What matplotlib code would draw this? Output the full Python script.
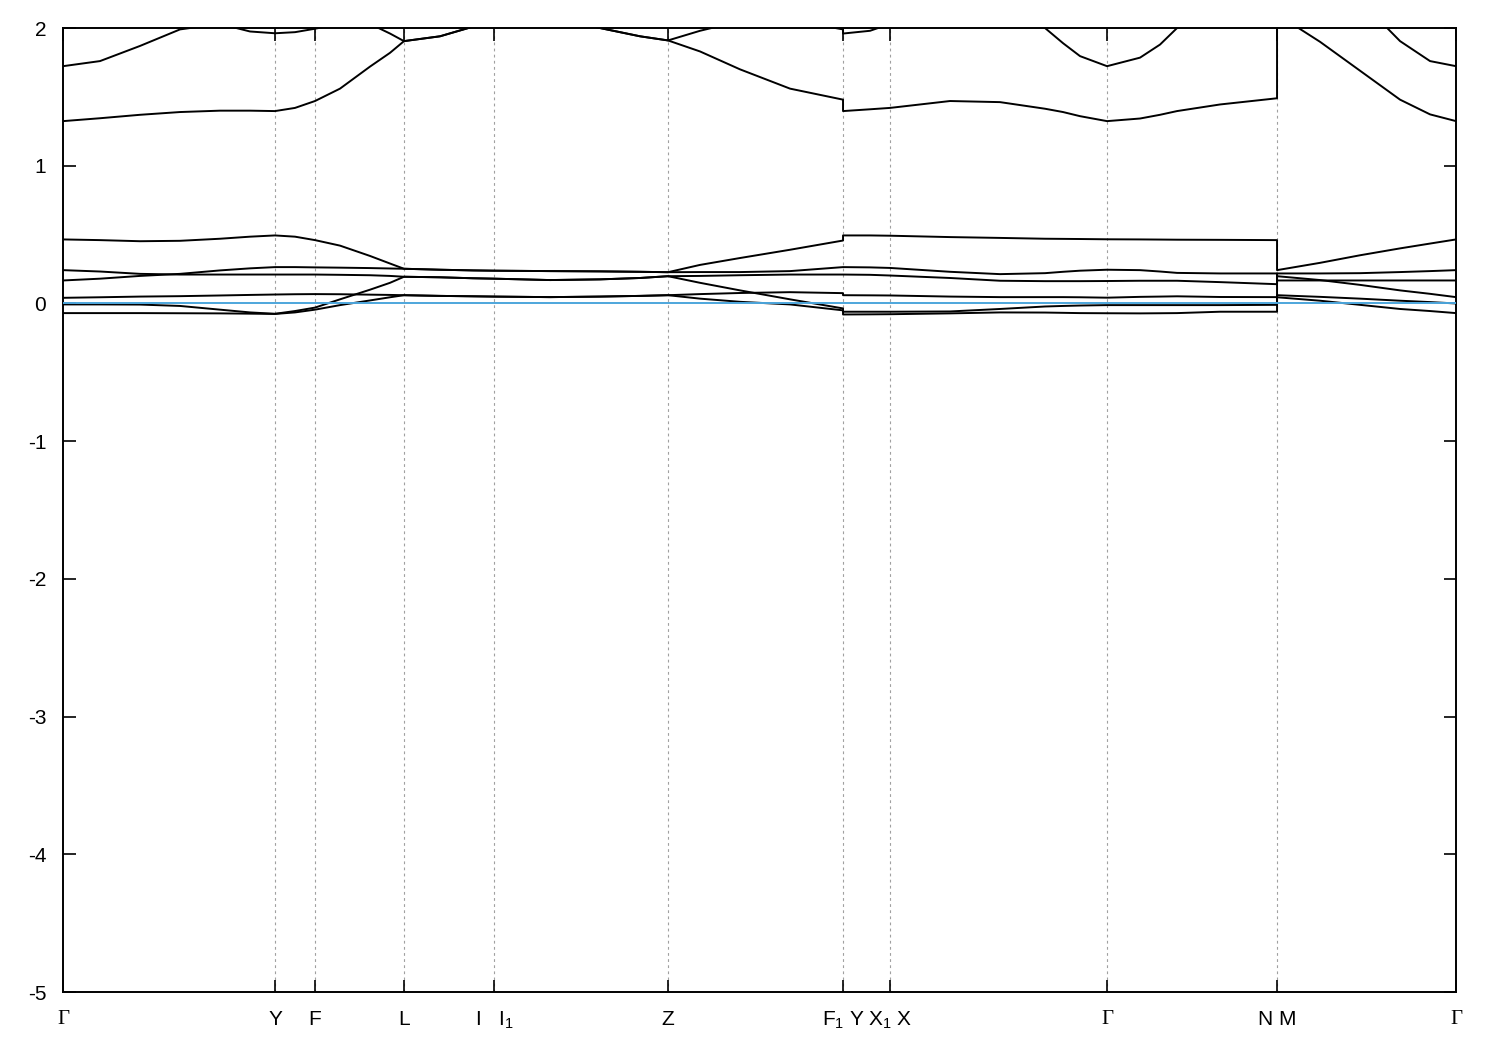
import matplotlib.pyplot as plt
import numpy as np

plt.rcParams['font.family'] = ['Liberation Sans', 'DejaVu Sans']
plt.rcParams['mathtext.fontset'] = 'custom'
plt.rcParams['mathtext.rm'] = 'Liberation Sans'
plt.rcParams['mathtext.it'] = 'Liberation Sans'
plt.rcParams['axes.unicode_minus'] = False

# k-path coordinate (the two repeated values are the path breaks F1|Y and N|M)
kpath = [0.00, 0.37, 0.77, 1.17, 1.57, 1.87, 2.12, 2.32, 2.52, 2.77,
         3.07, 3.27, 3.41, 3.77, 4.10, 4.31, 4.87, 5.37, 5.77, 6.05,
         6.37, 6.77, 7.27, 7.80, 7.80, 8.07, 8.27, 8.87, 9.37, 9.82,
         10.00, 10.17, 10.44, 10.77, 10.97, 11.14, 11.57, 12.14, 12.14, 12.57,
         12.97, 13.37, 13.67, 13.93]

band1 = [-0.070, -0.070, -0.070, -0.071, -0.072, -0.074, -0.076, -0.065, -0.045, -0.012,
         0.022, 0.045, 0.060, 0.055, 0.052, 0.050, 0.046, 0.050, 0.055, 0.060,
         0.035, 0.012, -0.007, -0.050, -0.080, -0.079, -0.078, -0.072, -0.065, -0.066,
         -0.068, -0.070, -0.071, -0.072, -0.071, -0.070, -0.060, -0.060, 0.045, 0.020,
         -0.010, -0.040, -0.055, -0.070]
band2 = [-0.007, -0.007, -0.008, -0.018, -0.045, -0.065, -0.075, -0.055, -0.030, 0.030,
         0.100, 0.150, 0.194, 0.190, 0.183, 0.180, 0.170, 0.175, 0.185, 0.198,
         0.150, 0.095, 0.030, -0.036, -0.060, -0.060, -0.060, -0.058, -0.040, -0.022,
         -0.018, -0.015, -0.012, -0.012, -0.012, -0.012, -0.012, -0.010, 0.060, 0.048,
         0.035, 0.020, 0.010, 0.000]
band3 = [0.041, 0.045, 0.050, 0.053, 0.058, 0.062, 0.065, 0.067, 0.068, 0.067,
         0.064, 0.062, 0.060, 0.055, 0.052, 0.050, 0.046, 0.050, 0.055, 0.060,
         0.068, 0.076, 0.082, 0.075, 0.060, 0.059, 0.058, 0.050, 0.046, 0.046,
         0.046, 0.045, 0.042, 0.048, 0.050, 0.052, 0.047, 0.046, 0.198, 0.170,
         0.135, 0.095, 0.070, 0.046]
band4 = [0.167, 0.180, 0.200, 0.215, 0.240, 0.255, 0.264, 0.264, 0.262, 0.260,
         0.257, 0.254, 0.252, 0.245, 0.240, 0.238, 0.235, 0.233, 0.230, 0.227,
         0.228, 0.228, 0.235, 0.264, 0.264, 0.262, 0.258, 0.230, 0.213, 0.220,
         0.230, 0.238, 0.245, 0.242, 0.232, 0.222, 0.218, 0.218, 0.167, 0.167,
         0.167, 0.167, 0.167, 0.167]
band5 = [0.242, 0.232, 0.215, 0.210, 0.210, 0.210, 0.210, 0.210, 0.210, 0.208,
         0.205, 0.200, 0.194, 0.190, 0.183, 0.180, 0.170, 0.175, 0.185, 0.198,
         0.200, 0.205, 0.210, 0.210, 0.210, 0.208, 0.203, 0.185, 0.165, 0.162,
         0.162, 0.162, 0.163, 0.165, 0.165, 0.165, 0.155, 0.140, 0.218, 0.218,
         0.220, 0.228, 0.235, 0.242]
band6 = [0.465, 0.460, 0.452, 0.455, 0.470, 0.485, 0.494, 0.485, 0.460, 0.420,
         0.345, 0.290, 0.252, 0.245, 0.240, 0.238, 0.235, 0.233, 0.230, 0.227,
         0.280, 0.330, 0.390, 0.457, 0.494, 0.494, 0.492, 0.482, 0.476, 0.470,
         0.469, 0.468, 0.466, 0.465, 0.464, 0.463, 0.462, 0.460, 0.242, 0.295,
         0.350, 0.400, 0.435, 0.465]
band7 = [1.324, 1.345, 1.370, 1.390, 1.400, 1.400, 1.397, 1.420, 1.470, 1.560,
         1.720, 1.820, 1.905, 1.940, 2.010, 2.060, 2.080, 2.000, 1.940, 1.910,
         1.830, 1.700, 1.560, 1.480, 1.397, 1.410, 1.420, 1.470, 1.462, 1.414,
         1.390, 1.360, 1.324, 1.343, 1.370, 1.397, 1.445, 1.490, 2.100, 1.900,
         1.690, 1.480, 1.373, 1.324]
band8 = [1.723, 1.760, 1.870, 1.990, 2.030, 1.975, 1.962, 1.970, 1.995, 2.030,
         2.030, 1.960, 1.905, 1.940, 2.010, 2.060, 2.080, 2.000, 1.940, 1.910,
         1.980, 2.050, 2.060, 1.990, 1.960, 1.980, 2.030, 2.200, 2.200, 2.000,
         1.890, 1.796, 1.723, 1.785, 1.880, 2.000, 2.200, 2.200, 2.300, 2.300,
         2.200, 1.905, 1.760, 1.723]

bands = [band1, band2, band3, band4, band5, band6, band7, band8]

tick_pos = [0.00, 2.12, 2.52, 3.41, 4.31, 6.05, 7.80, 8.27, 10.44, 12.14, 13.93]
tick_labels = ['Γ', 'Y', 'F', 'L', 'I   I$_1$', 'Z', 'F$_1$ Y', 'X$_1$ X', 'Γ', 'N M', 'Γ']

fig = plt.figure(figsize=(15, 10.5), dpi=100)
ax = fig.add_axes([0.042, 0.0552, 0.9287, 0.9181])

for t in tick_pos[1:-1]:
    ax.axvline(t, color='#a0a0a0', lw=0.8, ls=(0, (2.5, 3)), zorder=1)

for b in bands:
    ax.plot(kpath, b, color='black', lw=1.4, zorder=2)

ax.axhline(0, color='#4da6dc', lw=1.4, zorder=3)

ax.set_xlim(tick_pos[0], tick_pos[-1])
ax.set_ylim(-5, 2)
ax.set_yticks(range(-5, 3))
ax.set_xticks(tick_pos)
ax.set_xticklabels(tick_labels)
for lab in ax.get_xticklabels():
    if lab.get_text() == 'Γ':
        lab.set_family('Liberation Serif')

ax.tick_params(direction='in', length=9, width=1.2, labelsize=15,
               top=True, right=True)
ax.tick_params(axis='x', pad=13)
ax.tick_params(axis='y', pad=12)
for sp in ax.spines.values():
    sp.set_linewidth(1.4)

fig.savefig('out.png', dpi=100)
